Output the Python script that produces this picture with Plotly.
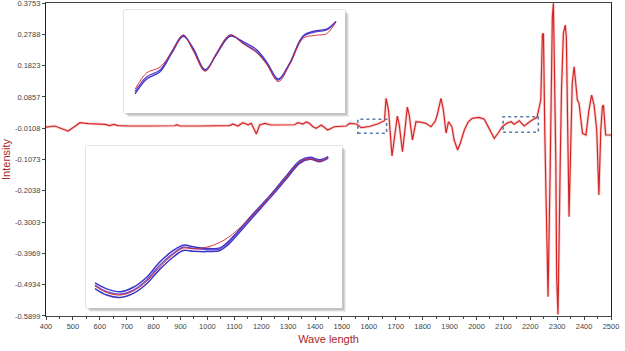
import plotly.graph_objects as go

# ---------------- main spectrum ----------------
wavelength = [400, 415, 433, 452, 482, 504, 526, 556, 582, 619, 637, 652, 667, 712, 786, 860, 879, 886, 897,
              971, 1064, 1083, 1095, 1113, 1132, 1151, 1163, 1182, 1194, 1213, 1237, 1324, 1336, 1355, 1367,
              1379, 1392, 1404, 1423, 1447, 1472, 1516, 1528, 1554, 1572, 1602, 1632, 1658, 1664, 1673, 1686,
              1695, 1706, 1713, 1725, 1734, 1743, 1750, 1762, 1775, 1791, 1812, 1831, 1847, 1854, 1868, 1877,
              1887, 1896, 1909, 1917, 1930, 1940, 1955, 1969, 1984, 2010, 2029, 2047, 2066, 2081, 2096, 2114,
              2129, 2140, 2159, 2177, 2203, 2225, 2239, 2245, 2249, 2254, 2261, 2266, 2274, 2278, 2282, 2286,
              2291, 2295, 2298, 2303, 2311, 2316, 2323, 2330, 2334, 2338, 2342, 2344, 2350, 2356, 2363, 2369,
              2375, 2381, 2388, 2394, 2407, 2418, 2428, 2437, 2447, 2452, 2455, 2462, 2468, 2472, 2480, 2493, 2500]
intensity = [-0.0071, -0.0055, -0.0040, -0.0102, -0.0194, -0.0071, 0.0062, 0.0037, 0.0022, 0.0013, -0.0025,
             0.0013, -0.0025, -0.0040, -0.0040, -0.0040, -0.0031, 0.0000, -0.0040,
             -0.0040, -0.0040, -0.0025, 0.0022, -0.0040, 0.0062, 0.0000, 0.0043, -0.0287, -0.0009, 0.0043,
             -0.0009, 0.0000, 0.0062, 0.0022, 0.0083,
             0.0043, -0.0062, -0.0111, -0.0009, -0.0163, -0.0062, -0.0040, 0.0043, 0.0022, -0.0092, -0.0055,
             0.0022, 0.0124, 0.0814, 0.0453, -0.0965,
             -0.0472, 0.0268, -0.0009, -0.0832, -0.0163, 0.0546, 0.0299, -0.0472, 0.0093, 0.0083, 0.0043,
             -0.0062, 0.0114, 0.0299, 0.0814, 0.0453,
             -0.0256, 0.0093, -0.0071, -0.0472, -0.0780, -0.0564, -0.0163, 0.0083, 0.0198, 0.0228, 0.0167,
             -0.0102, -0.0419, -0.0256, -0.0062, 0.0052,
             0.0093, 0.0013, 0.0124, -0.0040, 0.0124, 0.0228, 0.0762, 0.2766, 0.2819, -0.0256, -0.3031,
             -0.5304, -0.1295, 0.1172, 0.3331, 0.3744,
             0.1286, -0.1181, -0.4687, -0.5850, -0.1295, 0.1070, 0.2819, 0.3075, 0.2714, 0.1070, -0.1705,
             -0.2837, -0.0256, 0.1286, 0.1789, 0.1326,
             0.0762, 0.0669, 0.0145, -0.0265, -0.0317, 0.0453, 0.0916, 0.0608, -0.0163, -0.1489, -0.2168,
             -0.0163, 0.0555, 0.0608, -0.0317, -0.0317, -0.0317]

y_tick_vals = [0.3753, 0.2788, 0.1823, 0.0857, -0.0108, -0.1073, -0.2038, -0.3003, -0.3969, -0.4934, -0.5899]
y_tick_text = ["0.3753", "0.2788", "0.1823", "0.0857", "-0.0108", "-0.1073", "-0.2038", "-0.3003",
               "-0.3969", "-0.4934", "-0.5899"]
x_tick_vals = list(range(400, 2501, 100))

# ---------------- top inset (relative units) ----------------
top_x = [5.0, 10.3, 16.3, 21.6, 26.8, 31.4, 36.7, 41.9, 48.0, 54.0, 60.0, 64.6, 69.8, 75.1, 81.1, 87.2, 91.7, 95.9]
top_blue1 = [20.7, 35.2, 41.7, 59.5, 75.7, 61.2, 41.1, 58.0, 75.7, 67.7, 59.5, 48.3, 32.0, 48.3, 74.1, 78.9, 80.6, 88.6]
top_blue2 = [18.5, 33.0, 40.0, 58.0, 74.5, 62.5, 42.0, 57.0, 74.5, 69.0, 61.5, 49.5, 33.0, 49.0, 75.0, 80.0, 81.5, 89.0]
top_red = [23.0, 39.0, 44.5, 59.0, 75.7, 60.0, 40.5, 58.0, 75.7, 67.0, 58.5, 47.0, 30.5, 47.5, 72.5, 75.5, 77.0, 88.6]

# ---------------- bottom inset (relative units) ----------------
bot_x = [3.5, 8.1, 13.3, 18.5, 23.7, 28.9, 34.1, 38.0, 41.9, 47.1, 52.3, 55.5, 58.9, 65.4, 71.9, 78.4, 83.6, 87.5, 91.4, 94.6]
bot_blue1 = [14.2, 10.1, 8.6, 11.1, 17.3, 26.5, 33.8, 37.5, 36.8, 36.0, 36.5, 40.0, 45.5, 57.4, 68.7, 81.0, 90.3, 92.4, 90.9, 93.0]
bot_blue2 = [12.0, 8.0, 6.5, 9.0, 15.0, 24.0, 31.5, 35.5, 35.0, 34.8, 35.5, 39.0, 44.8, 56.5, 68.0, 80.0, 89.5, 91.8, 90.3, 92.5]
bot_blue3 = [15.5, 11.8, 10.0, 12.8, 19.0, 28.5, 35.5, 38.8, 37.8, 36.8, 37.0, 40.8, 46.5, 58.3, 69.5, 81.8, 91.0, 93.0, 91.5, 93.5]
bot_red = [13.5, 9.5, 8.0, 10.5, 16.5, 25.5, 33.0, 37.0, 36.5, 37.5, 40.5, 43.5, 47.8, 57.8, 69.0, 81.0, 90.0, 92.0, 90.6, 93.0]

RED = "#d42424"
BLUE = "#3a36c8"
TITLE_RED = "#a8262a"

fig = go.Figure()

# main spectrum: soft halo + line
fig.add_trace(go.Scatter(x=wavelength, y=intensity, mode="lines",
                         line=dict(color="rgba(225,70,70,0.22)", width=3), hoverinfo="skip", showlegend=False))
fig.add_trace(go.Scatter(x=wavelength, y=intensity, mode="lines",
                         line=dict(color=RED, width=1.2), showlegend=False))

# insets
for ys, c, w in [(top_blue2, BLUE, 1.3), (top_blue1, "#5a3fc8", 1.3), (top_red, RED, 0.9)]:
    fig.add_trace(go.Scatter(x=top_x, y=ys, mode="lines", line=dict(color=c, width=w, shape="spline"),
                             xaxis="x2", yaxis="y2", showlegend=False))
for ys, c, w in [(bot_blue2, BLUE, 1.5), (bot_blue3, BLUE, 1.5), (bot_blue1, "#6a4fd0", 1.4), (bot_red, RED, 0.9)]:
    fig.add_trace(go.Scatter(x=bot_x, y=ys, mode="lines", line=dict(color=c, width=w, shape="spline"),
                             xaxis="x3", yaxis="y3", showlegend=False))

# plot area geometry (pixels) for inset boxes
W, H = 625, 351
L, R, T, B = 46, 14, 3, 35
pw, ph = W - L - R, H - T - B


def px_to_paper(x0, x1, y0, y1):
    return (x0 - L) / pw, (x1 - L) / pw, (H - B - y1) / ph, (H - B - y0) / ph


shapes = []
insets = [(124, 345, 10, 113), (86, 342, 146, 308)]
domains = []
for (x0, x1, y0, y1) in insets:
    # soft shadow
    for k, op in [(4, 0.10), (3, 0.14), (2, 0.18)]:
        a0, a1, b0, b1 = px_to_paper(x0 + k, x1 + k, y0 + k, y1 + k)
        shapes.append(dict(type="rect", xref="paper", yref="paper", x0=a0, x1=a1, y0=b0, y1=b1,
                           line=dict(width=0), fillcolor="rgba(90,90,90,%s)" % op, layer="below"))
    a0, a1, b0, b1 = px_to_paper(x0, x1, y0, y1)
    shapes.append(dict(type="rect", xref="paper", yref="paper", x0=a0, x1=a1, y0=b0, y1=b1,
                       line=dict(color="#c8c8c8", width=1), fillcolor="white", layer="below"))
    domains.append(((a0, a1), (b0, b1)))

# dotted highlight boxes on spectrum
for (wx0, wx1, vy0, vy1) in [(1559, 1666, -0.0265, 0.0167), (2099, 2230, -0.0234, 0.0247)]:
    shapes.append(dict(type="rect", xref="x", yref="y", x0=wx0, x1=wx1, y0=vy0, y1=vy1,
                       line=dict(color="#5a7ea8", width=1.6, dash="dot"), fillcolor="rgba(0,0,0,0)"))

tickfont = dict(family="Liberation Sans, Arial, sans-serif", size=7.5, color="#444444")
fig.update_layout(
    width=W, height=H,
    margin=dict(l=L, r=R, t=T, b=B, autoexpand=False),
    paper_bgcolor="white", plot_bgcolor="white",
    shapes=shapes,
    xaxis=dict(range=[400, 2500], tickvals=x_tick_vals, ticks="outside", ticklen=3, tickcolor="#444",
               showline=True, linecolor="#444", linewidth=1, mirror=True, showgrid=False, zeroline=False,
               tickfont=tickfont, minor=dict(dtick=50, ticks="outside", ticklen=2, tickcolor="#444"),
               ticklabeloverflow="allow", automargin=False,
               title=dict(text="Wave length", font=dict(family="Liberation Sans, Arial, sans-serif",
                                                        size=11, color=TITLE_RED), standoff=5)),
    yaxis=dict(range=[-0.58995, 0.37545], tickvals=y_tick_vals, ticktext=y_tick_text, ticks="outside",
               ticklen=3, tickcolor="#444", showline=True, linecolor="#222", linewidth=1.2, mirror=True,
               showgrid=False, zeroline=False, tickfont=tickfont, ticklabeloverflow="allow", automargin=False,
               title=dict(text="Intensity", font=dict(family="Liberation Sans, Arial, sans-serif",
                                                      size=11, color=TITLE_RED), standoff=4)),
    xaxis2=dict(domain=list(domains[0][0]), range=[0, 100], visible=False, anchor="y2"),
    yaxis2=dict(domain=list(domains[0][1]), range=[0, 100], visible=False, anchor="x2"),
    xaxis3=dict(domain=list(domains[1][0]), range=[0, 100], visible=False, anchor="y3"),
    yaxis3=dict(domain=list(domains[1][1]), range=[0, 100], visible=False, anchor="x3"),
)

fig.write_html("out.html")
